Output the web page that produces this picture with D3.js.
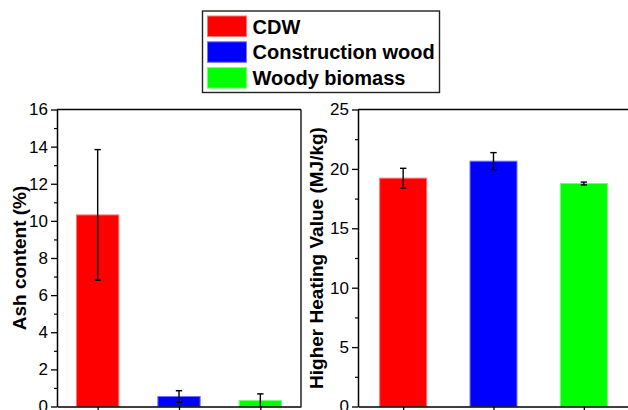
<!DOCTYPE html>
<html>
<head>
<meta charset="utf-8">
<script src="https://cdn.jsdelivr.net/npm/d3@7"></script>
<style>
  html, body { margin: 0; padding: 0; background: #fff; }
  svg { display: block; }
  text { font-family: "Liberation Sans", Arial, sans-serif; }
</style>
</head>
<body>
<script>
// ---- data ----
const categories = ["CDW", "Construction wood", "Woody biomass"];
const colors = ["#ff0000", "#0000ff", "#00ff00"];
const ashValues = [10.32, 0.54, 0.32];
const ashErrors = [3.52, 0.31, 0.36];
const hhvValues = [19.22, 20.65, 18.77];
const hhvErrors = [0.83, 0.72, 0.12];
const ashTicks = [0, 2, 4, 6, 8, 10, 12, 14, 16];
const hhvTicks = [0, 5, 10, 15, 20, 25];
const ashTitle = "Ash content (%)";
const hhvTitle = "Higher Heating Value (MJ/kg)";

const W = 628, H = 410;
const svg = d3.select("body").append("svg").attr("width", W).attr("height", H);

const yTop = 109.5, yBot = 406.5;

function panel(opts) {
  const g = svg.append("g");
  const x = d3.scalePoint().domain(categories).range(opts.xr).padding(0.5);
  const y = d3.scaleLinear().domain(opts.domain).range([yBot, yTop]);
  const bw = x.step() * 0.52;
  const data = categories.map((c, i) => ({c, v: opts.values[i], e: opts.errors[i], col: colors[i]}));

  // bars
  g.selectAll("rect.bar").data(data).enter().append("rect")
    .attr("class", "bar")
    .attr("x", d => x(d.c) - bw / 2)
    .attr("y", d => y(d.v))
    .attr("width", bw)
    .attr("height", d => y(0) - y(d.v))
    .attr("fill", d => d.col)
    .attr("stroke", d => d3.interpolateRgb(d.col, "#fff")(0.45))
    .attr("stroke-width", 1);

  // error bars
  const cap = 3.2;
  const eb = g.selectAll("g.err").data(data).enter().append("g")
    .attr("stroke", "#000").attr("stroke-width", 1.4);
  eb.append("line")
    .attr("x1", d => x(d.c)).attr("x2", d => x(d.c))
    .attr("y1", d => y(d.v + d.e)).attr("y2", d => y(Math.max(d.v - d.e, 0)));
  eb.append("line")
    .attr("x1", d => x(d.c) - cap).attr("x2", d => x(d.c) + cap)
    .attr("y1", d => y(d.v + d.e)).attr("y2", d => y(d.v + d.e));
  eb.filter(d => d.v - d.e > 0).append("line")
    .attr("x1", d => x(d.c) - cap).attr("x2", d => x(d.c) + cap)
    .attr("y1", d => y(d.v - d.e)).attr("y2", d => y(d.v - d.e));

  // minor ticks
  const minorStep = opts.minor;
  const minors = d3.range(opts.domain[0], opts.domain[1] + 1e-9, minorStep)
    .filter(v => !opts.ticks.some(t => Math.abs(t - v) < 1e-9));
  const yMinor = d3.axisLeft(y).tickValues(minors).tickSize(3).tickFormat("");
  g.append("g").attr("transform", `translate(${opts.xr[0]},0)`).call(yMinor)
    .call(a => a.select(".domain").remove())
    .selectAll("line").attr("stroke", "#000").attr("stroke-width", 1.2);

  // major y axis
  const yAxis = d3.axisLeft(y).tickValues(opts.ticks).tickSize(6).tickSizeOuter(0).tickPadding(3)
    .tickFormat(d3.format("d"));
  const ya = g.append("g").attr("transform", `translate(${opts.xr[0]},0)`).call(yAxis);
  ya.select(".domain").attr("stroke", "#000").attr("stroke-width", 1.5);
  ya.selectAll(".tick line").attr("stroke", "#000").attr("stroke-width", 1.3);
  ya.selectAll(".tick text").attr("font-size", 17).attr("fill", "#000")
    .style("font-family", "'Liberation Sans', Arial, sans-serif");

  // x axis
  const xAxis = d3.axisBottom(x).tickSize(5).tickSizeOuter(0).tickFormat("");
  const xa = g.append("g").attr("transform", `translate(0,${yBot})`).call(xAxis);
  xa.select(".domain").attr("stroke", "#000").attr("stroke-width", 1.5);
  xa.selectAll(".tick line").attr("stroke", "#000").attr("stroke-width", 1.3);

  // frame
  g.append("line").attr("x1", opts.xr[0]).attr("x2", opts.xr[1]).attr("y1", yTop).attr("y2", yTop)
    .attr("stroke", "#000").attr("stroke-width", 1.3);
  if (opts.rightFrame) {
    g.append("line").attr("x1", opts.xr[1]).attr("x2", opts.xr[1]).attr("y1", yTop).attr("y2", yBot)
      .attr("stroke", "#000").attr("stroke-width", 1.3);
  }

  // title
  g.append("text")
    .attr("transform", `translate(${opts.titleX},${(yTop + yBot) / 2}) rotate(-90)`)
    .attr("text-anchor", "middle")
    .attr("font-size", 19).attr("font-weight", "bold").attr("fill", "#000")
    .text(opts.title);
}

panel({xr: [57, 301], domain: [0, 16], ticks: ashTicks, minor: 1,
       values: ashValues, errors: ashErrors, title: ashTitle, titleX: 26, rightFrame: true});
panel({xr: [358, 629], domain: [0, 25], ticks: hhvTicks, minor: 2.5,
       values: hhvValues, errors: hhvErrors, title: hhvTitle, titleX: 322.5, rightFrame: false});

// legend
const lg = svg.append("g");
lg.append("rect").attr("x", 202.5).attr("y", 11).attr("width", 237).attr("height", 81.5)
  .attr("fill", "#fff").attr("stroke", "#222").attr("stroke-width", 1.4);
const rowY = [16, 41.8, 67.6];
const items = lg.selectAll("g.item").data(categories).enter().append("g");
items.append("rect")
  .attr("x", 207.5).attr("y", (d, i) => rowY[i]).attr("width", 39).attr("height", 20.5)
  .attr("fill", (d, i) => colors[i])
  .attr("stroke", (d, i) => d3.interpolateRgb(colors[i], "#fff")(0.45)).attr("stroke-width", 1);
items.append("text")
  .attr("x", 252.5).attr("y", (d, i) => rowY[i] + 17.5)
  .attr("font-size", 20).attr("font-weight", "bold").attr("fill", "#000")
  .text(d => d);
</script>
</body>
</html>
